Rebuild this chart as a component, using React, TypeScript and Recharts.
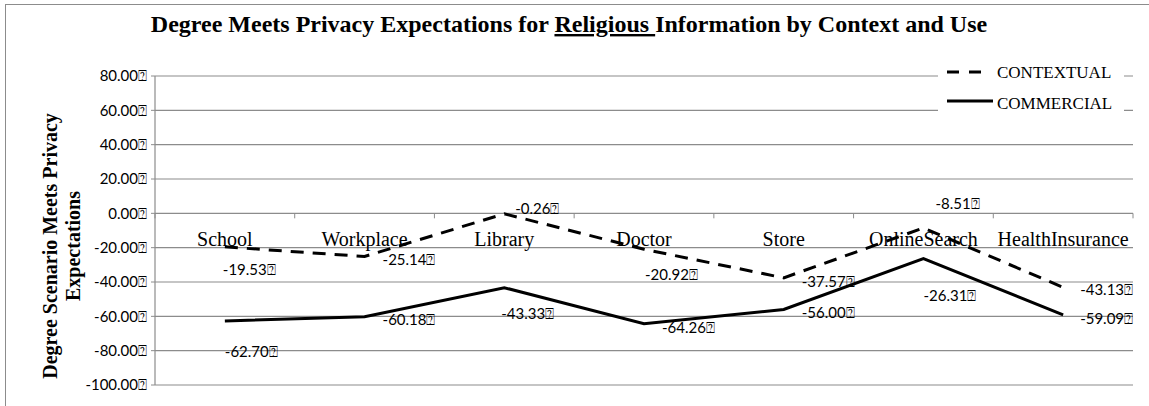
import React from "react";
import {
  LineChart,
  Line,
  XAxis,
  YAxis,
  CartesianGrid,
  Legend,
  LabelList,
} from "recharts";

const categories = [
  "School",
  "Workplace",
  "Library",
  "Doctor",
  "Store",
  "OnlineSearch",
  "HealthInsurance",
];
const contextual = [-19.53, -25.14, -0.26, -20.92, -37.57, -8.51, -43.13];
const commercial = [-62.7, -60.18, -43.33, -64.26, -56.0, -26.31, -59.09];
const yTicks = [-100, -80, -60, -40, -20, 0, 20, 40, 60, 80];

// where each data label sits relative to its point (text start, text middle)
const contextualLabelOffsets = [
  [-2, 22], [18, 3], [11, -6], [1, 25], [18, 3], [12, -25], [17, 2],
];
const commercialLabelOffsets = [
  [0, 30], [18, 2], [-3, 25], [18, 3], [18, 3], [0, 37], [17, 3],
];

const data = categories.map((name, i) => ({
  name,
  contextual: contextual[i],
  commercial: commercial[i],
}));

const W = 1149;
const H = 406;
const PLOT_LEFT = 155;
const PLOT_RIGHT = 1133;
const PLOT_TOP = 76;
const PLOT_BOTTOM = 385;
const BAND = (PLOT_RIGHT - PLOT_LEFT) / categories.length;
const ZERO_SHIFT = ((PLOT_BOTTOM - PLOT_TOP) * 100) / 180;

const GRID = "#8c8c8c";
const SERIF = "'Liberation Serif', 'Times New Roman', serif";
const SANS = "Lato, 'Open Sans', sans-serif";
const DASH = "13 9";

const fmt = (v: number) => v.toFixed(2) + "\u2370";

const CategoryTick = (props: any) => {
  const { x, y, payload, index } = props;
  const zy = y - ZERO_SHIFT;
  return (
    <g>
      <line x1={x - BAND / 2} x2={x - BAND / 2} y1={zy} y2={zy + 5} stroke={GRID} />
      {index === categories.length - 1 && (
        <line x1={x + BAND / 2} x2={x + BAND / 2} y1={zy} y2={zy + 5} stroke={GRID} />
      )}
      <text
        x={x}
        y={zy + 33}
        textAnchor="middle"
        fontFamily={SERIF}
        fontSize={20}
        fill="#000"
      >
        {payload.value}
      </text>
    </g>
  );
};

const makeLabel = (offsets: number[][]) => (props: any) => {
  const vb = props.viewBox || {};
  const x = props.x ?? vb.x;
  const y = props.y ?? vb.y;
  const i = props.index ?? 0;
  const [dx, dy] = offsets[i] || [18, 3];
  return (
    <text
      x={x + dx}
      y={y + dy}
      dominantBaseline="central"
      fontFamily={SANS}
      fontSize={15}
      fill="#000"
    >
      {fmt(Number(props.value))}
    </text>
  );
};

const LegendBox = () => (
  <svg width={186} height={60}>
    <line x1={9} x2={47} y1={14} y2={14} stroke="#000" strokeWidth={3} strokeDasharray="12 10" />
    <text x={59} y={14} dominantBaseline="central" fontFamily={SERIF} fontSize={17}>
      CONTEXTUAL
    </text>
    <line x1={9} x2={55} y1={43} y2={43} stroke="#000" strokeWidth={3} />
    <text x={59} y={45} dominantBaseline="central" fontFamily={SERIF} fontSize={17}>
      COMMERCIAL
    </text>
  </svg>
);

export default function App() {
  return (
    <div
      style={{
        position: "absolute",
        left: 0,
        top: 0,
        width: W,
        height: H,
        background: "#fff",
        overflow: "hidden",
      }}
    >
      <div
        style={{
          position: "absolute",
          left: 5,
          top: 4,
          width: W + 50,
          height: H + 50,
          border: `1px solid ${GRID}`,
        }}
      />
      <div style={{ position: "absolute", left: 0, top: 0 }}>
        <LineChart
          width={W}
          height={H}
          data={data}
          margin={{ top: PLOT_TOP, right: W - PLOT_RIGHT, bottom: 0, left: PLOT_LEFT - 80 }}
        >
          <CartesianGrid vertical={false} stroke={GRID} strokeWidth={1.2} />
          <XAxis
            dataKey="name"
            height={H - PLOT_BOTTOM}
            axisLine={false}
            tickLine={false}
            tickSize={0}
            tickMargin={0}
            interval={0}
            padding={{ left: BAND / 2, right: BAND / 2 }}
            tick={<CategoryTick />}
          />
          <YAxis
            width={80}
            domain={[-100, 80]}
            ticks={yTicks}
            interval={0}
            tickFormatter={fmt}
            axisLine={{ stroke: GRID, strokeWidth: 1.2 }}
            tickLine={{ stroke: GRID }}
            tickSize={4}
            tickMargin={4}
            tick={{ fontFamily: SANS, fontSize: 15, fill: "#000" }}
          />
          <Legend
            layout="vertical"
            align="center"
            verticalAlign="middle"
            content={<LegendBox />}
            wrapperStyle={{
              left: 938,
              top: 58,
              width: 186,
              height: 60,
              background: "#fff",
            }}
          />
          <Line
            type="linear"
            dataKey="contextual"
            name="CONTEXTUAL"
            stroke="#000"
            strokeWidth={3}
            strokeDasharray={DASH}
            dot={false}
            activeDot={false}
            isAnimationActive={false}
          >
            <LabelList dataKey="contextual" content={makeLabel(contextualLabelOffsets)} />
          </Line>
          <Line
            type="linear"
            dataKey="commercial"
            name="COMMERCIAL"
            stroke="#000"
            strokeWidth={3}
            dot={false}
            activeDot={false}
            isAnimationActive={false}
          >
            <LabelList dataKey="commercial" content={makeLabel(commercialLabelOffsets)} />
          </Line>
        </LineChart>
      </div>
      <svg
        width={W}
        height={H}
        style={{ position: "absolute", left: 0, top: 0, pointerEvents: "none" }}
      >
        <text
          x={569}
          y={32}
          textAnchor="middle"
          fontFamily={SERIF}
          fontWeight="bold"
          fontSize={24}
          fill="#000"
        >
          Degree Meets Privacy Expectations for{" "}
          <tspan style={{ textDecoration: "underline" }}>{"Religious "}</tspan>
          Information by Context and Use
        </text>
        <g fontFamily={SERIF} fontWeight="bold" fontSize={20} fill="#000" textAnchor="middle">
          <text transform="translate(57,246) rotate(-90)">Degree Scenario Meets Privacy</text>
          <text transform="translate(80,246) rotate(-90)">Expectations</text>
        </g>
      </svg>
    </div>
  );
}
